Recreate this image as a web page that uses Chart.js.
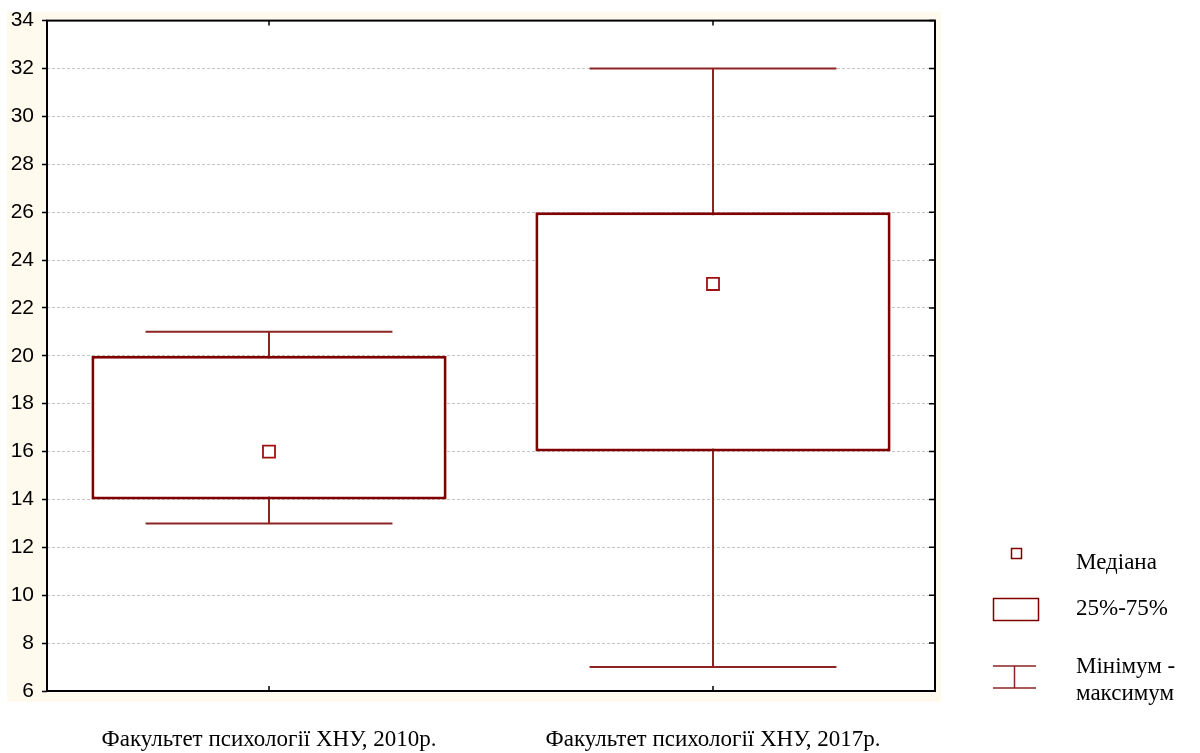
<!DOCTYPE html>
<html>
<head>
<meta charset="utf-8">
<script src="https://cdn.jsdelivr.net/npm/chart.js@4.4.1/dist/chart.umd.min.js"></script>
<style>
  html, body { margin: 0; padding: 0; background: #ffffff; }
  #wrap { width: 1200px; height: 753px; }
</style>
</head>
<body>
<div id="wrap"><canvas id="chart" width="1200" height="753"></canvas></div>
<script>
// groups on the x axis
const categories = ['Факультет психології ХНУ, 2010р.', 'Факультет психології ХНУ, 2017р.'];
// box plot values
const minimums = [13, 7];
const quartile1 = [14, 16];
const medians = [16, 23];
const quartile3 = [20, 26];
const maximums = [21, 32];
// y axis
const yMin = 6;
const yMax = 34;
const yStep = 2;
// legend texts
const legendTexts = [['Медіана'], ['25%-75%'], ['Мінімум -', 'максимум']];

const boxColor = '#800000';
const whiskerColor = '#8c2424';
const cream = '#fffaee';

const boxData = quartile1.map((q, i) => [q, quartile3[i]]);

// cream backdrop + white plot area
const backdrop = {
    id: 'backdrop',
    beforeDraw( chart ) {
        const { ctx, chartArea: a } = chart;
        ctx.save();
        ctx.fillStyle = cream;
        ctx.fillRect(a.left - 40, a.top - 9, (a.right - a.left) + 46, (a.bottom - a.top) + 20);
        ctx.fillStyle = '#ffffff';
        ctx.fillRect(a.left, a.top, a.right - a.left, a.bottom - a.top);
        ctx.restore();
    }
};

// whiskers, drawn under the boxes
const whiskers = {
    id: 'whiskers',
    beforeDatasetsDraw( chart ) {
        const { ctx, scales: { x, y } } = chart;
        const catWidth = (x.right - x.left) / categories.length;
        const cap = catWidth * 0.556 / 2;
        ctx.save();
        ctx.strokeStyle = whiskerColor;
        ctx.lineWidth = 2;
        categories.forEach( (c, i) => {
            const cx = x.getPixelForValue(i);
            const pMin = y.getPixelForValue(minimums[i]);
            const pMax = y.getPixelForValue(maximums[i]);
            ctx.beginPath();
            ctx.moveTo(cx, pMin);
            ctx.lineTo(cx, pMax);
            ctx.moveTo(cx - cap, pMin);
            ctx.lineTo(cx + cap, pMin);
            ctx.moveTo(cx - cap, pMax);
            ctx.lineTo(cx + cap, pMax);
            ctx.stroke();
        });
        ctx.restore();
    }
};

// frame with inward ticks, plus legend on the right
const frame = {
    id: 'frame',
    afterDraw( chart ) {
        const { ctx, chartArea: a, scales: { x, y } } = chart;
        ctx.save();
        ctx.strokeStyle = '#000000';
        ctx.lineWidth = 2;
        ctx.strokeRect(a.left, a.top, a.right - a.left, a.bottom - a.top);

        ctx.lineWidth = 1.5;
        ctx.beginPath();
        y.ticks.forEach( t => {
            const py = y.getPixelForValue(t.value);
            ctx.moveTo(a.right, py);
            ctx.lineTo(a.right - 6, py);
        });
        categories.forEach( (c, i) => {
            const px = x.getPixelForValue(i);
            ctx.moveTo(px, a.top);
            ctx.lineTo(px, a.top + 5);
            ctx.moveTo(px, a.bottom);
            ctx.lineTo(px, a.bottom - 5);
        });
        ctx.stroke();

        // legend
        const lx = a.right + 58;
        const tx = a.right + 141;
        ctx.strokeStyle = boxColor;
        ctx.lineWidth = 1.5;
        ctx.strokeRect(lx + 18.5, 548.5, 10, 10);
        ctx.strokeRect(lx + 0.5, 598.5, 45, 22);
        ctx.strokeStyle = whiskerColor;
        ctx.beginPath();
        ctx.moveTo(lx, 666); ctx.lineTo(lx + 43, 666);
        ctx.moveTo(lx, 688); ctx.lineTo(lx + 43, 688);
        ctx.moveTo(lx + 21.5, 666); ctx.lineTo(lx + 21.5, 688);
        ctx.stroke();

        ctx.fillStyle = '#000000';
        ctx.font = '23px "Liberation Serif"';
        ctx.textBaseline = 'middle';
        ctx.textAlign = 'left';
        const rows = [563, 609, 667];
        legendTexts.forEach( (lines, i) => {
            lines.forEach( (line, j) => {
                ctx.fillText(line, tx, rows[i] + j * 27);
            });
        });
        ctx.restore();
    }
};

const config = {
    type: 'bar',
    data: {
        labels: categories,
        datasets: [{
            label: 'Медіана',
            type: 'line',
            data: medians,
            showLine: false,
            pointStyle: 'rect',
            pointRadius: 8.5,
            pointBorderWidth: 1.8,
            pointBorderColor: '#a01010',
            pointBackgroundColor: '#ffffff',
            order: 0
        }, {
            label: '25%-75%',
            data: boxData,
            backgroundColor: '#ffffff',
            borderColor: boxColor,
            borderWidth: 3,
            borderSkipped: false,
            barPercentage: 0.8,
            categoryPercentage: 1.0,
            order: 1
        }]
    },
    options: {
        responsive: false,
        animation: false,
        layout: { padding: { left: 0, right: 265, top: 19, bottom: 0 } },
        plugins: {
            legend: { display: false },
            tooltip: { enabled: false }
        },
        scales: {
            x: {
                offset: true,
                grid: { display: false },
                border: { display: false },
                ticks: {
                    color: '#000000',
                    padding: 27,
                    maxRotation: 0,
                    font: { family: '"Liberation Serif"', size: 23 }
                },
                afterFit( scale ) { scale.height = 62; }
            },
            y: {
                min: yMin,
                max: yMax,
                ticks: {
                    stepSize: yStep,
                    color: '#000000',
                    padding: 8,
                    font: { family: '"Liberation Sans"', size: 21 }
                },
                grid: {
                    color: '#c4c4c4',
                    lineWidth: 1,
                    tickLength: 5,
                    tickColor: '#000000',
                    tickWidth: 1.5,
                    tickBorderDash: []
                },
                border: { display: false, dash: [3, 2] },
                afterFit( scale ) { scale.width = 47; }
            }
        }
    },
    plugins: [backdrop, whiskers, frame]
};

new Chart(document.getElementById('chart'), config);
</script>
</body>
</html>
